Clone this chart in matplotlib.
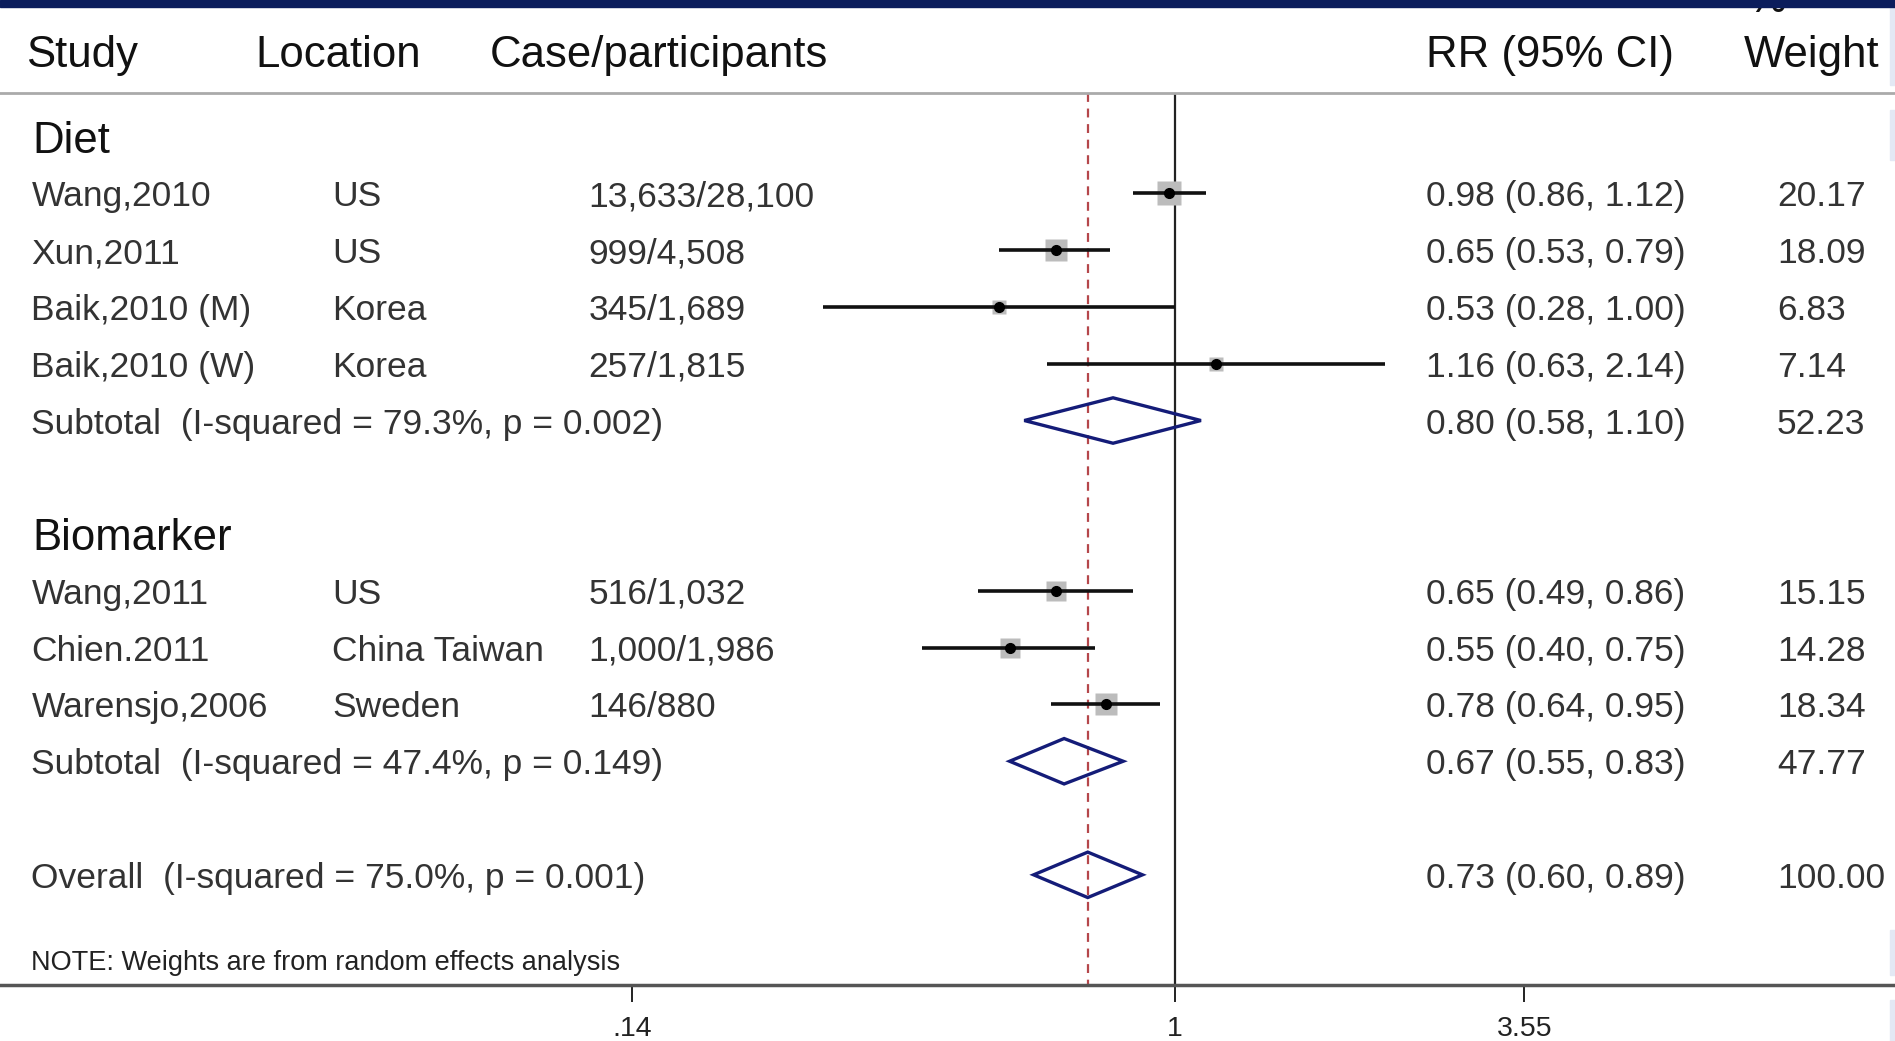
import numpy as np
import matplotlib
matplotlib.use('Agg')
import matplotlib.pyplot as plt
from matplotlib.patches import Polygon, Rectangle

plt.rcParams['font.family'] = ['Liberation Sans', 'DejaVu Sans']

# study level data
groups = ['Diet', 'Diet', 'Diet', 'Diet', 'Biomarker', 'Biomarker', 'Biomarker']
studies = ['Wang,2010', 'Xun,2011', 'Baik,2010 (M)', 'Baik,2010 (W)',
           'Wang,2011', 'Chien.2011', 'Warensjo,2006']
locations = ['US', 'US', 'Korea', 'Korea', 'US', 'China Taiwan', 'Sweden']
cases = ['13,633/28,100', '999/4,508', '345/1,689', '257/1,815',
         '516/1,032', '1,000/1,986', '146/880']
rr = [0.98, 0.65, 0.53, 1.16, 0.65, 0.55, 0.78]
rr_lo = [0.86, 0.53, 0.28, 0.63, 0.49, 0.40, 0.64]
rr_hi = [1.12, 0.79, 1.00, 2.14, 0.86, 0.75, 0.95]
weights = [20.17, 18.09, 6.83, 7.14, 15.15, 14.28, 18.34]

# pooled estimates per group
group_names = ['Diet', 'Biomarker']
sub_labels = ['Subtotal  (I-squared = 79.3%, p = 0.002)',
              'Subtotal  (I-squared = 47.4%, p = 0.149)']
sub_rr = [0.80, 0.67]
sub_lo = [0.58, 0.55]
sub_hi = [1.10, 0.83]
sub_w = [52.23, 47.77]

overall_label = 'Overall  (I-squared = 75.0%, p = 0.001)'
overall_rr, overall_lo, overall_hi, overall_w = 0.73, 0.60, 0.89, 100.00

tick_vals = [0.14, 1, 3.55]
tick_labels = ['.14', '1', '3.55']

# column x positions (axes fraction)
X_NAME, X_LOC, X_CASE, X_RR, X_W = 0.0166, 0.1754, 0.3106, 0.7525, 0.9377

TXT = '#333333'
NAVY = '#141c78'
FS = 25.5
HFS = 31.5

fig = plt.figure(figsize=(18.95, 10.41), dpi=100)
ax = fig.add_axes([0, 0.0538, 1, 0.9462])
ax.set_xscale('log')
ax.set_xlim(0.01418, 13.6)
ax.set_ylim(14.94, -2.405)
tr = ax.get_yaxis_transform()


def row_text(x, y, s, **kw):
    kw.setdefault('fontsize', FS)
    kw.setdefault('color', TXT)
    ax.text(x, y, s, transform=tr, va='center_baseline', **kw)


def diamond(y, est, lo, hi, h=0.4):
    ax.add_patch(Polygon([(lo, y), (est, y - h), (hi, y), (est, y + h)],
                         closed=True, fill=False, edgecolor=NAVY, lw=2.4,
                         zorder=4))


# column headers
hy = -1.5
for x, s in [(0.014, 'Study'), (0.1345, 'Location'), (0.2582, 'Case/participants'),
             (0.7525, 'RR (95% CI)')]:
    ax.text(x, hy, s, transform=tr, va='center_baseline', fontsize=HFS, color='#111111')
ax.text(0.9917, hy, 'Weight', transform=tr, va='center_baseline', ha='right',
        fontsize=HFS, color='#111111')
fig.text(0.922, 0.9885, '%', fontsize=HFS, color='#111111', va='baseline')
ax.axhline(-0.77, color='#aaaaaa', lw=2)

row = 0
for g, name in enumerate(group_names):
    ax.text(0.0172, row, name, transform=tr, va='center_baseline',
            fontsize=HFS, color='#111111')
    row += 1
    for i in [k for k in range(len(studies)) if groups[k] == name]:
        row_text(X_NAME, row, studies[i])
        row_text(X_LOC, row, locations[i])
        row_text(X_CASE, row, cases[i])
        row_text(X_RR, row, f'{rr[i]:.2f} ({rr_lo[i]:.2f}, {rr_hi[i]:.2f})')
        row_text(X_W, row, f'{weights[i]:.2f}')
        ax.plot(rr[i], row, marker='s', ms=3.8 * np.sqrt(weights[i]),
                color='#bcbcbc', mec='none', zorder=2)
        ax.plot([rr_lo[i], rr_hi[i]], [row, row], color='#111111', lw=2.6,
                solid_capstyle='butt', zorder=3)
        ax.plot(rr[i], row, marker='o', ms=7, color='#000000', zorder=4)
        row += 1
    row_text(X_NAME, row, sub_labels[g])
    row_text(X_RR, row, f'{sub_rr[g]:.2f} ({sub_lo[g]:.2f}, {sub_hi[g]:.2f})')
    row_text(X_W, row, f'{sub_w[g]:.2f}')
    diamond(row, sub_rr[g], sub_lo[g], sub_hi[g])
    row += 2

# overall pooled estimate
row_text(X_NAME, row, overall_label)
row_text(X_RR, row, f'{overall_rr:.2f} ({overall_lo:.2f}, {overall_hi:.2f})')
row_text(X_W, row, f'{overall_w:.2f}')
diamond(row, overall_rr, overall_lo, overall_hi)
row_text(X_NAME, row + 1.5, 'NOTE: Weights are from random effects analysis',
         fontsize=19.5, color='#222222')

# reference lines
ax.vlines(1, -0.77, 14.94, color='#222222', lw=1.6, zorder=1)
ax.vlines(overall_rr, -0.77, 14.94, color='#b5474b', lw=1.6,
          linestyles=(0, (4, 3)), zorder=1)

for side in ['top', 'left', 'right']:
    ax.spines[side].set_visible(False)
ax.spines['bottom'].set_color('#555555')
ax.spines['bottom'].set_linewidth(2.5)
ax.set_yticks([])
ax.set_xticks(tick_vals)
ax.set_xticklabels(tick_labels)
ax.xaxis.set_minor_locator(matplotlib.ticker.NullLocator())
ax.tick_params(axis='x', length=12, width=1.4, pad=10, labelsize=20.5,
               colors='#222222')

# slide frame
fig.add_artist(Rectangle((0, 1 - 7 / 1041), 1, 7 / 1041, transform=fig.transFigure,
                         color='#0b1d5c', zorder=10))
for y0, y1 in [(0, 85), (110, 160), (930, 975), (1000, 1041)]:
    fig.add_artist(Rectangle((1 - 5 / 1895, 1 - y1 / 1041), 5 / 1895, (y1 - y0) / 1041,
                             transform=fig.transFigure, color='#e3e8f4', zorder=9))

fig.savefig('out.png', dpi=100)
